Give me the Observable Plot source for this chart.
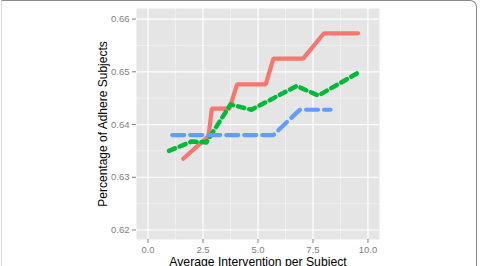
<!DOCTYPE html>
<html><head><meta charset="utf-8">
<script src="https://cdn.jsdelivr.net/npm/d3@7"></script>
<script src="https://cdn.jsdelivr.net/npm/@observablehq/plot@0.6"></script>
<style>
html,body{margin:0;padding:0;background:#fff;}
#wrap{position:relative;width:480px;height:266px;overflow:hidden;}
#frame{position:absolute;left:1px;top:0;width:476px;height:280px;border-top:1.5px solid #8a8a8a;border-right:1.5px solid #8a8a8a;border-left:1px solid #d8d8d8;border-top-right-radius:7px;box-sizing:border-box;pointer-events:none;}
</style>
</head><body>
<div id="wrap"><div id="chart"></div><div id="frame"></div></div>
<script>
const xTicks = [0, 2.5, 5, 7.5, 10];
const yTicks = [0.62, 0.63, 0.64, 0.65, 0.66];
const xMinor = [1.25, 3.75, 6.25, 8.75];
const yMinor = [0.625, 0.635, 0.645, 0.655];

const redX = [1.6, 2.75, 2.9, 3.7, 4.05, 5.35, 5.7, 7.05, 8.0, 9.55];
const redY = [0.6335, 0.6378, 0.643, 0.643, 0.6476, 0.6476, 0.6525, 0.6525, 0.6573, 0.6573];
const greenX = [0.95, 2.0, 2.65, 3.75, 4.7, 6.75, 7.75, 9.5];
const greenY = [0.635, 0.6368, 0.6366, 0.6438, 0.6428, 0.6473, 0.6455, 0.6497];
const blueX = [1.1, 5.7, 6.9, 8.3];
const blueY = [0.638, 0.638, 0.6428, 0.6428];

const xLabel = "Average Intervention per Subject";
const yLabel = "Percentage of Adhere Subjects";

const toRows = (xs, ys) => xs.map((x, i) => ({x, y: ys[i]}));
const red = toRows(redX, redY), green = toRows(greenX, greenY), blue = toRows(blueX, blueY);

const font = "Liberation Sans, Arial, Helvetica, sans-serif";
const chart = Plot.plot({
  width: 480, height: 266,
  marginLeft: 136, marginRight: 101, marginTop: 8, marginBottom: 27,
  style: {fontFamily: font, background: "transparent"},
  x: {domain: [-0.525, 10.525]},
  y: {domain: [0.6182, 0.662]},
  marks: [
    Plot.frame({fill: "#E5E5E5", stroke: null}),
    Plot.ruleX(xMinor, {stroke: "#F2F2F2", strokeWidth: 0.8}),
    Plot.ruleY(yMinor, {stroke: "#F2F2F2", strokeWidth: 0.8}),
    Plot.ruleX(xTicks, {stroke: "#fff", strokeWidth: 1.2}),
    Plot.ruleY(yTicks, {stroke: "#fff", strokeWidth: 1.2}),
    Plot.axisX({ticks: xTicks, tickFormat: d => d.toFixed(1), tickSize: 4, tickPadding: 3, stroke: "#7f7f7f", color: "#7f7f7f", fontSize: 9.5, label: null}),
    Plot.axisY({ticks: yTicks, tickFormat: d => d.toFixed(2), tickSize: 4, tickPadding: 3, stroke: "#7f7f7f", color: "#7f7f7f", fontSize: 9.5, label: null}),
    Plot.line(red, {x: "x", y: "y", stroke: "#F8766D", strokeWidth: 4.2, strokeLinejoin: "miter"}),
    Plot.line(green, {x: "x", y: "y", stroke: "#00BA38", strokeWidth: 4.5, strokeDasharray: "6.5,5"}),
    Plot.line(blue, {x: "x", y: "y", stroke: "#619CFF", strokeWidth: 4.2, strokeDasharray: "12,6"}),
    Plot.text([xLabel], {text: d => d, frameAnchor: "bottom", dy: 26.5, fontSize: 12.2, fill: "#000", lineAnchor: "bottom", textAnchor: "middle"}),
    Plot.text([yLabel], {text: d => d, frameAnchor: "left", dx: -33, rotate: -90, fontSize: 12, fill: "#000", lineAnchor: "middle", textAnchor: "middle"})
  ]
});
document.getElementById("chart").append(chart);
</script>
</body></html>
